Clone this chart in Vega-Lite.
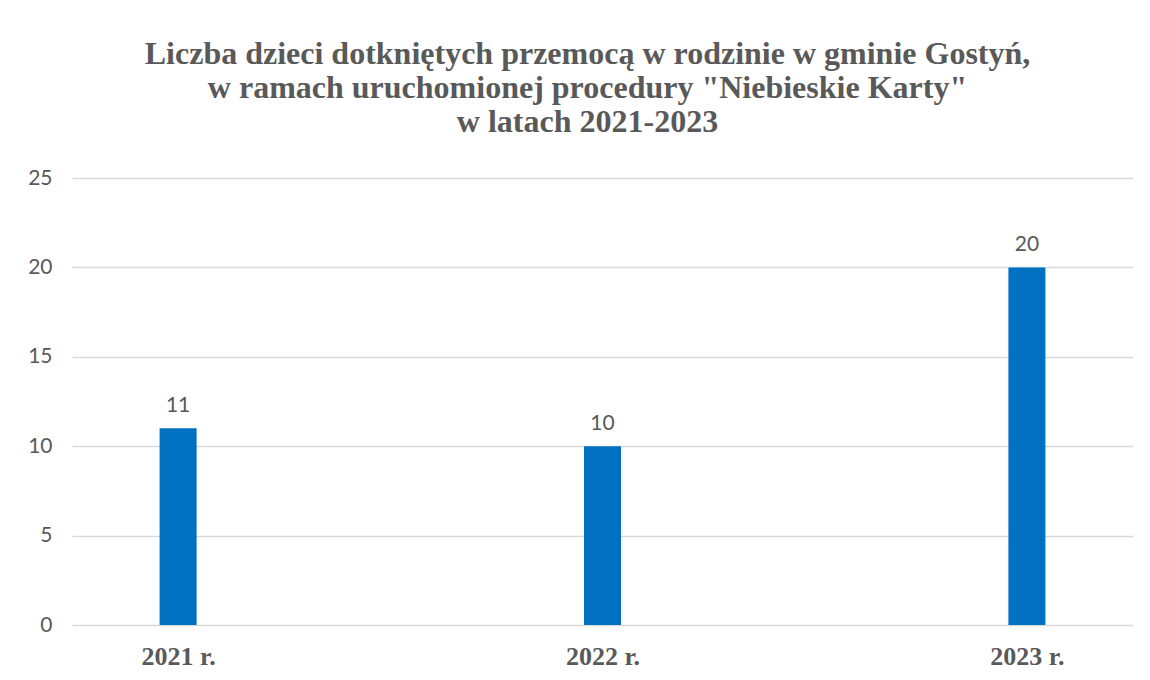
{
  "$schema": "https://vega.github.io/schema/vega-lite/v6.json",
  "width": 1061,
  "height": 447,
  "autosize": {"type": "none"},
  "padding": {"left": 72, "top": 178, "right": 17, "bottom": 55},
  "background": "white",
  "config": {"view": {"stroke": null}},
  "title": {
    "text": ["Liczba dzieci dotkniętych przemocą w rodzinie w gminie Gostyń,", "w ramach uruchomionej procedury \"Niebieskie Karty\"", "w latach 2021-2023"],
    "font": "Liberation Serif",
    "fontSize": 32,
    "fontWeight": "bold",
    "color": "#595959",
    "lineHeight": 34,
    "anchor": "middle",
    "dx": -15,
    "offset": 28
  },
  "data": {"values": [
    {"year": "2021 r.", "value": 11},
    {"year": "2022 r.", "value": 10},
    {"year": "2023 r.", "value": 20}
  ]},
  "encoding": {
    "x": {"field": "year", "type": "nominal", "sort": null,
      "scale": {"type": "point", "padding": 0.25},
      "axis": {"title": null, "labelAngle": 0, "domain": false, "ticks": false,
        "labelFont": "Liberation Serif", "labelFontSize": 26, "labelFontWeight": "bold",
        "labelColor": "#595959", "labelPadding": 18}},
    "y": {"field": "value", "type": "quantitative",
      "scale": {"domain": [0, 25]},
      "axis": {"title": null, "values": [0, 5, 10, 15, 20, 25], "domain": false, "ticks": false,
        "labelFont": "Lato", "labelFontSize": 21, "labelColor": "#595959", "labelPadding": 20,
        "gridColor": "#d9d9d9", "gridWidth": 1.5}}
  },
  "layer": [
    {"mark": {"type": "bar", "size": 37, "color": "#0070C0"}},
    {"mark": {"type": "text", "baseline": "alphabetic", "dy": -16, "font": "Lato", "fontSize": 21, "color": "#595959"},
     "encoding": {"text": {"field": "value", "type": "quantitative"}}}
  ]
}
